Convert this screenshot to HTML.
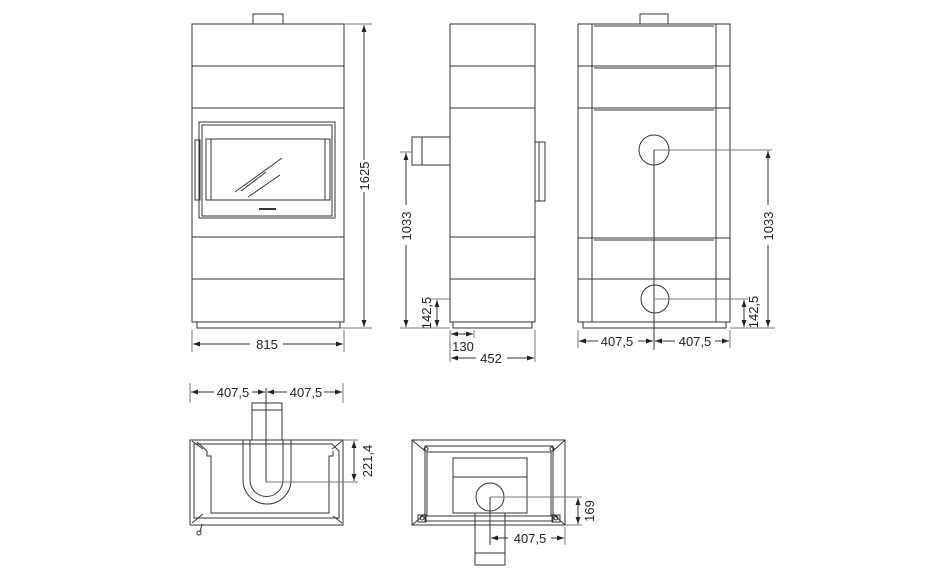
<!DOCTYPE html>
<html><head><meta charset="utf-8"><style>
html,body{margin:0;padding:0;background:#fff;}
svg{display:block}
text{font-family:"Liberation Sans",sans-serif;font-size:13px;fill:#222}
</style></head><body>
<svg width="950" height="578" viewBox="0 0 950 578" xmlns="http://www.w3.org/2000/svg">
<defs>
<marker id="a" viewBox="0 0 10 10" refX="10" refY="5" markerWidth="7" markerHeight="7" orient="auto-start-reverse"><path d="M0,1.5 L10,5 L0,8.5 z" fill="#222"/></marker>
</defs>
<g fill="none" stroke="#333" stroke-width="1">
<!-- FRONT VIEW -->
<rect x="253" y="14" width="30" height="10"/>
<rect x="192" y="24" width="152" height="298"/>
<line x1="192" y1="66" x2="344" y2="66"/><line x1="192" y1="108" x2="344" y2="108"/>
<line x1="192" y1="237" x2="344" y2="237"/><line x1="192" y1="279" x2="344" y2="279"/>
<rect x="199" y="122" width="136" height="96"/>
<rect x="202" y="125" width="130" height="91"/>
<rect x="206" y="139" width="124" height="61"/>
<line x1="211" y1="139" x2="211" y2="200"/><line x1="325" y1="139" x2="325" y2="200"/>
<rect x="195" y="140" width="5" height="60"/>
<line x1="241" y1="191" x2="266" y2="172"/><line x1="235" y1="192" x2="282" y2="158"/><line x1="248" y1="197" x2="280" y2="175"/>
<line x1="259" y1="209" x2="276" y2="209" stroke-width="2"/>
<rect x="197" y="322" width="143" height="6"/>
<!-- dims front -->
<line x1="344" y1="24" x2="372" y2="24" stroke="#777"/><line x1="340" y1="328" x2="372" y2="328" stroke="#777"/>
<line x1="364" y1="25" x2="364" y2="160" marker-start="url(#a)"/><line x1="364" y1="192" x2="364" y2="327" marker-end="url(#a)"/>
<line x1="192" y1="330" x2="192" y2="352" stroke="#777"/><line x1="344" y1="330" x2="344" y2="352" stroke="#777"/>
<line x1="193" y1="344" x2="250" y2="344" marker-start="url(#a)"/><line x1="283" y1="344" x2="343" y2="344" marker-end="url(#a)"/>

<!-- SIDE VIEW -->
<rect x="450" y="24" width="85" height="298"/>
<line x1="450" y1="66" x2="535" y2="66"/><line x1="450" y1="108" x2="535" y2="108"/>
<line x1="450" y1="237" x2="535" y2="237"/><line x1="450" y1="279" x2="535" y2="279"/>
<rect x="412" y="137" width="38" height="28"/><line x1="422" y1="137" x2="422" y2="165"/>
<rect x="535" y="142" width="10" height="59"/><line x1="539" y1="142" x2="539" y2="201"/>
<rect x="453" y="322" width="79" height="6"/>
<line x1="400" y1="152" x2="412" y2="152" stroke="#777"/><line x1="400" y1="328" x2="450" y2="328" stroke="#777"/>
<line x1="430" y1="299" x2="450" y2="299" stroke="#777"/>
<line x1="406" y1="153" x2="406" y2="205" marker-start="url(#a)"/><line x1="406" y1="245" x2="406" y2="327" marker-end="url(#a)"/>
<line x1="437" y1="300" x2="437" y2="327" marker-start="url(#a)" marker-end="url(#a)"/>
<line x1="450" y1="330" x2="450" y2="362" stroke="#777"/><line x1="474" y1="330" x2="474" y2="338" stroke="#777"/><line x1="535" y1="330" x2="535" y2="362" stroke="#777"/>
<line x1="451" y1="334" x2="473" y2="334" marker-start="url(#a)" marker-end="url(#a)"/>
<line x1="451" y1="358" x2="476" y2="358" marker-start="url(#a)"/><line x1="507" y1="358" x2="534" y2="358" marker-end="url(#a)"/>

<!-- REAR VIEW -->
<rect x="640" y="14" width="28" height="10"/>
<rect x="578" y="24" width="152" height="298"/>
<line x1="592" y1="24" x2="592" y2="322"/><line x1="716" y1="24" x2="716" y2="322"/>
<line x1="578" y1="66" x2="730" y2="66"/><line x1="578" y1="108" x2="730" y2="108"/>
<line x1="578" y1="238" x2="730" y2="238"/><line x1="578" y1="279" x2="730" y2="279"/>
<line x1="594" y1="68" x2="714" y2="68"/><line x1="594" y1="110" x2="714" y2="110"/><line x1="594" y1="240" x2="714" y2="240"/><line x1="594" y1="26" x2="714" y2="26"/>
<circle cx="654" cy="150" r="15"/><circle cx="655" cy="299" r="14"/>
<rect x="583" y="322" width="143" height="6"/>
<line x1="654" y1="150" x2="654" y2="350"/>
<line x1="654" y1="150" x2="772" y2="150" stroke="#777"/><line x1="655" y1="299" x2="748" y2="299" stroke="#777"/>
<line x1="730" y1="328" x2="775" y2="328" stroke="#777"/>
<line x1="768" y1="151" x2="768" y2="205" marker-start="url(#a)"/><line x1="768" y1="245" x2="768" y2="327" marker-end="url(#a)"/>
<line x1="744" y1="300" x2="744" y2="327" marker-start="url(#a)" marker-end="url(#a)"/>
<line x1="578" y1="330" x2="578" y2="348" stroke="#777"/><line x1="730" y1="330" x2="730" y2="348" stroke="#777"/>
<line x1="579" y1="341" x2="598" y2="341" marker-start="url(#a)"/><line x1="638" y1="341" x2="653" y2="341" marker-end="url(#a)"/>
<line x1="655" y1="341" x2="675" y2="341" marker-start="url(#a)"/><line x1="715" y1="341" x2="729" y2="341" marker-end="url(#a)"/>

<!-- TOP VIEW LEFT -->
<rect x="190" y="440" width="153" height="85"/>
<polyline points="201,444 332,444 339,451 339,518 201,518 194,518 194,444 201,444"/>
<polyline points="197,442 207,451 207,456 211,456 211,513 329,513 329,456 333,456 333,451"/>
<polyline points="192,441 203,449"/><polyline points="342,441 332,449"/>
<line x1="192" y1="523" x2="203" y2="514"/><line x1="342" y1="523" x2="333" y2="516"/>
<line x1="199" y1="518" x2="337" y2="518"/>
<line x1="202" y1="524" x2="200" y2="532"/><circle cx="199" cy="533" r="2"/>
<rect x="252" y="403" width="30" height="37"/><line x1="252" y1="410" x2="282" y2="410"/>
<path d="M243,440 V480 A24,24 0 0 0 291,480 V440"/>
<path d="M250,440 V480 A16.5,16.5 0 0 0 283,480 V440"/>
<line x1="266" y1="388" x2="266" y2="482"/>
<line x1="266" y1="482" x2="358" y2="482" stroke="#777"/><line x1="343" y1="440" x2="358" y2="440" stroke="#777"/>
<line x1="354" y1="441" x2="354" y2="481" marker-start="url(#a)" marker-end="url(#a)"/>
<line x1="190" y1="383" x2="190" y2="403" stroke="#777"/><line x1="343" y1="383" x2="343" y2="403" stroke="#777"/>
<line x1="191" y1="392" x2="214" y2="392" marker-start="url(#a)"/><line x1="252" y1="392" x2="265" y2="392" marker-end="url(#a)"/>
<line x1="267" y1="392" x2="287" y2="392" marker-start="url(#a)"/><line x1="324" y1="392" x2="342" y2="392" marker-end="url(#a)"/>

<!-- TOP VIEW RIGHT -->
<rect x="412" y="440" width="153" height="85"/>
<rect x="425" y="446" width="128" height="75"/>
<line x1="412" y1="440" x2="425" y2="451"/><line x1="565" y1="440" x2="553" y2="451"/>
<line x1="412" y1="525" x2="425" y2="514"/><line x1="565" y1="525" x2="553" y2="514"/>
<rect x="427" y="452" width="124" height="64"/>
<rect x="453" y="458" width="74" height="55"/><line x1="453" y1="477" x2="527" y2="477"/>
<circle cx="426" cy="449" r="2"/><circle cx="552" cy="449" r="2"/><circle cx="422" cy="518" r="2"/><circle cx="556" cy="518" r="2"/>
<rect x="418" y="515" width="8" height="7"/><rect x="552" y="515" width="8" height="7"/>
<rect x="475" y="513" width="30" height="52"/><line x1="475" y1="553" x2="505" y2="553"/>
<circle cx="490" cy="497" r="14"/>
<line x1="490" y1="497" x2="490" y2="545"/>
<line x1="490" y1="497" x2="582" y2="497" stroke="#777"/><line x1="565" y1="525" x2="582" y2="525" stroke="#777"/>
<line x1="578" y1="498" x2="578" y2="524" marker-start="url(#a)" marker-end="url(#a)"/>
<line x1="565" y1="527" x2="565" y2="545" stroke="#777"/>
<line x1="491" y1="538" x2="508" y2="538" marker-start="url(#a)"/><line x1="551" y1="538" x2="564" y2="538" marker-end="url(#a)"/>
</g>
<text x="267" y="349" text-anchor="middle">815</text>
<text transform="translate(369,176) rotate(-90)" text-anchor="middle">1625</text>
<text transform="translate(411,226) rotate(-90)" text-anchor="middle">1033</text>
<text transform="translate(431,313) rotate(-90)" text-anchor="middle">142,5</text>
<text x="463" y="351" text-anchor="middle">130</text>
<text x="491" y="363" text-anchor="middle">452</text>
<text transform="translate(773,226) rotate(-90)" text-anchor="middle">1033</text>
<text transform="translate(758,312) rotate(-90)" text-anchor="middle">142,5</text>
<text x="617" y="346" text-anchor="middle">407,5</text>
<text x="695" y="346" text-anchor="middle">407,5</text>
<text x="233" y="397" text-anchor="middle">407,5</text>
<text x="306" y="397" text-anchor="middle">407,5</text>
<text transform="translate(372,461) rotate(-90)" text-anchor="middle">221,4</text>
<text transform="translate(594,511) rotate(-90)" text-anchor="middle">169</text>
<text x="530" y="543" text-anchor="middle">407,5</text>
</svg>
</body></html>
